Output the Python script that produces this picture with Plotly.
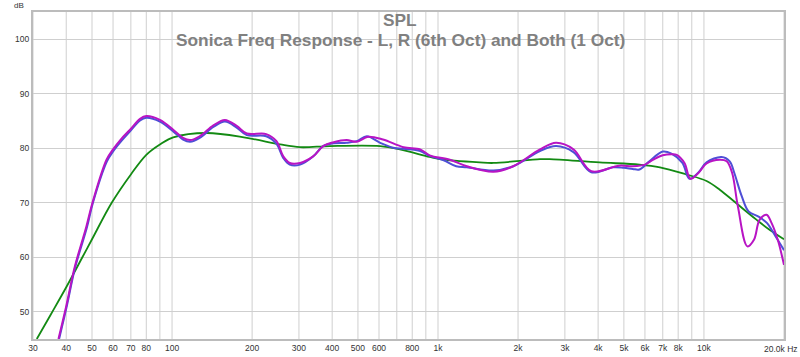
import plotly.graph_objects as go

# ---- data ----
freq_r = [37.4, 40, 43.1, 47.6, 50.2, 56.7, 60, 64.1, 69.5, 75.8, 80, 90, 101, 110, 117, 127, 143, 158, 175, 191, 226, 247, 262, 277, 303, 339, 370, 405, 453, 495, 546, 621, 742, 857, 930, 1108, 1284, 1617, 1918, 2418, 2780, 3230, 3770, 4800, 5400, 6000, 6450, 7000, 7550, 7900, 8450, 8900, 9550, 10230, 11470, 12180, 12760, 13420, 14570, 15420, 16200, 17200, 17950, 18950, 20000]
spl_r = [45, 51.0, 58.3, 65.6, 70, 77.9, 79.8, 81.6, 83.4, 85.4, 85.9, 85.2, 83.4, 81.9, 81.5, 82.2, 84.2, 85.2, 84.1, 82.7, 82.6, 81.3, 78.5, 77.3, 77.3, 78.5, 80.4, 81.1, 81.5, 81.2, 82.1, 81.6, 80.2, 79.8, 78.7, 77.9, 76.7, 75.7, 76.7, 79.8, 81.0, 79.8, 75.8, 76.8, 76.7, 77.0, 77.9, 78.7, 78.9, 78.8, 77.3, 74.4, 75.5, 77.2, 77.9, 77.6, 75.5, 69.3, 62.0, 63.2, 66.9, 67.8, 66.3, 63.2, 58.6]

freq_l = [37.6, 40.1, 43.2, 47.8, 50.4, 56.9, 60.2, 64.4, 69.5, 75.8, 80, 90, 101, 110, 117, 127, 143, 158, 175, 191, 226, 247, 262, 277, 303, 339, 370, 405, 453, 495, 540, 606, 678, 742, 857, 930, 1050, 1171, 1284, 1617, 1918, 2418, 2780, 3230, 3770, 4550, 5000, 5400, 5720, 6200, 7000, 7550, 8300, 8820, 9550, 10230, 11650, 12500, 13000, 13870, 14720, 15980, 17240, 18600, 20000]
spl_l = [45, 50.8, 58.1, 65.4, 70, 77.6, 79.5, 81.3, 83.1, 85.1, 85.6, 84.9, 83.1, 81.6, 81.2, 81.9, 83.9, 84.9, 83.8, 82.4, 82.2, 80.8, 78.2, 77.0, 77.0, 78.5, 80.4, 80.9, 81.0, 81.3, 82.2, 81.0, 80.1, 79.9, 79.5, 78.6, 77.8, 76.7, 76.5, 75.9, 76.7, 79.5, 80.4, 79.3, 75.6, 76.5, 76.4, 76.2, 76.1, 77.5, 79.4, 79.0, 77.3, 74.4, 75.6, 77.4, 78.4, 77.6, 75.5, 71.2, 68.4, 67.5, 66.3, 63.8, 61.3]

freq_both = [31, 35, 40, 46, 50, 59.3, 70, 80, 90, 101, 135, 191, 255, 303, 392, 606, 719, 930, 1015, 1435, 1617, 2418, 2629, 4050, 5720, 6830, 8570, 10230, 11470, 13240, 15750, 17700, 20000]
spl_both = [45.0, 49.5, 54.5, 60.0, 63.3, 70.0, 75.2, 78.8, 80.7, 82.0, 82.8, 81.9, 80.7, 80.2, 80.4, 80.4, 79.8, 78.4, 78.0, 77.4, 77.3, 78.0, 78.0, 77.4, 77.0, 76.5, 75.2, 74.0, 72.4, 69.9, 66.9, 65.0, 63.3]

tick_vals = [30, 40, 50, 60, 70, 80, 100, 200, 300, 400, 500, 600, 800, 1000, 2000, 3000, 4000, 5000, 6000, 7000, 8000, 10000]
tick_text = ["30", "40", "50", "60", "70", "80", "100", "200", "300", "400", "500", "600", "800", "1k", "2k", "3k", "4k", "5k", "6k", "7k", "8k", "10k"]
grid_vals = [m * d for d in (10, 100, 1000, 10000) for m in range(1, 10) if 30 <= m * d <= 20000]
y_ticks = [50, 60, 70, 80, 90, 100]

title_lines = ["SPL", "Sonica Freq Response - L, R (6th Oct) and Both (1 Oct)"]

FONT = "Liberation Sans, Arial, sans-serif"

fig = go.Figure()

for g in grid_vals:
    fig.add_shape(type="line", xref="x", yref="paper", x0=g, x1=g, y0=0, y1=1,
                  line=dict(color="#cfcfcf", width=1), layer="below")

fig.add_trace(go.Scatter(x=freq_both, y=spl_both, mode="lines", name="Both (1 Oct)",
                         line=dict(color="#138a13", width=1.8, shape="spline", smoothing=1)))
fig.add_trace(go.Scatter(x=freq_l, y=spl_l, mode="lines", name="L (6th Oct)",
                         line=dict(color="#4f4fd6", width=2, shape="spline", smoothing=1)))
fig.add_trace(go.Scatter(x=freq_r, y=spl_r, mode="lines", name="R (6th Oct)",
                         line=dict(color="#b814c4", width=2, shape="spline", smoothing=1)))

fig.update_layout(
    template="none",
    width=800, height=357, autosize=False,
    margin=dict(l=33, r=16, t=12, b=18, pad=0),
    paper_bgcolor="white", plot_bgcolor="white",
    showlegend=False,
    font=dict(family=FONT, size=8.5, color="#333333"),
    xaxis=dict(type="log", range=[1.4771, 4.30103], tickvals=tick_vals, ticktext=tick_text,
               automargin=False, showgrid=False, zeroline=False, showline=True, mirror=True,
               linecolor="#bcbcbc", linewidth=2, ticks="", ticklen=0,
               tickfont=dict(size=8.5, color="#333333", family=FONT)),
    yaxis=dict(range=[45, 105], tickvals=y_ticks, automargin=False,
               showgrid=True, gridcolor="#cfcfcf", gridwidth=1,
               zeroline=False, showline=True, mirror=True, linecolor="#bcbcbc", linewidth=2,
               ticks="", ticklen=0, tickfont=dict(size=8.5, color="#333333", family=FONT)),
)

fig.add_annotation(text=title_lines[0], xref="paper", yref="paper", x=0.4887, y=1, yshift=-8,
                   xanchor="center", yanchor="middle", showarrow=False,
                   font=dict(size=17.3, color="#808080", family=FONT, weight="bold"))
fig.add_annotation(text=title_lines[1], xref="paper", yref="paper", x=0.4887, y=1, yshift=-28,
                   xanchor="center", yanchor="middle", showarrow=False,
                   font=dict(size=17.3, color="#808080", family=FONT, weight="bold"))
fig.add_annotation(text="20.0k Hz", xref="paper", yref="paper", x=1, y=0, xshift=16, yshift=-10,
                   xanchor="right", yanchor="middle", showarrow=False,
                   font=dict(size=8.5, color="#333333", family=FONT))
fig.add_annotation(text="dB", xref="paper", yref="paper", x=0, y=1, xshift=-7, yshift=7,
                   xanchor="right", yanchor="middle", showarrow=False,
                   font=dict(size=8, color="#333333", family=FONT))

fig.write_html("out.html", config={"displayModeBar": False},
               post_script="document.body.style.margin='0';document.body.style.padding='0';")
